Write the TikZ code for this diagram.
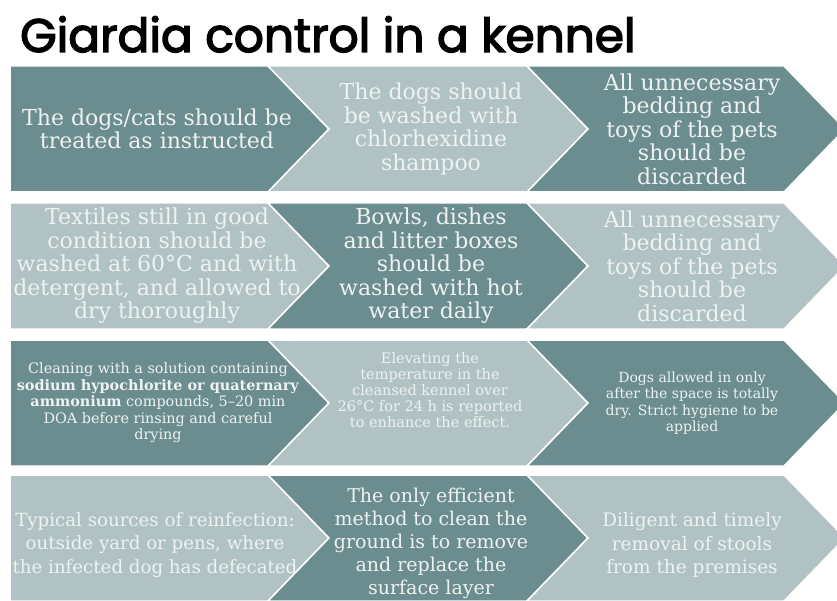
\documentclass[tikz,border=0pt]{standalone}
\usepackage{fontspec}
\setmainfont{DejaVu Serif}
\newfontfamily\titlefont[FakeBold=3]{Poppins}
\usepackage{tikz}

\definecolor{tealdark}{RGB}{108,141,143}
\definecolor{teallight}{RGB}{176,194,195}
\definecolor{boxtext}{RGB}{238,242,242}

\tikzset{
  darkbox/.style={fill=tealdark,draw=white,line width=1.5pt},
  lightbox/.style={fill=teallight,draw=white,line width=1.5pt},
  boxlabel/.style={text=boxtext,align=center,inner sep=0pt,
    font=\fontsize{22}{23.5}\selectfont},
  smalllabel/.style={boxlabel,font=\fontsize{14.4}{16.5}\selectfont},
}

\begin{document}
\begin{tikzpicture}[x=1pt,y=-1pt]
        \pgfmathsetmacro\h{126}
        \pgfmathsetmacro\tip{61}
        \pgfmathsetmacro\xa{10}
        \pgfmathsetmacro\xb{268}
        \pgfmathsetmacro\xc{527}
        \pgfmathsetmacro\xd{784}
        \useasboundingbox (0,0) rectangle (837,601);
        \clip (0,0) rectangle (837,601);
        % title
        \node[anchor=base west,inner sep=0pt,font=\titlefont\fontsize{47}{47}\selectfont]
          (title) at (20,52) {Giardia control in a kennel};
        % chevrons, row by row
        \foreach \t/\sa/\sb in {66/darkbox/lightbox,203/lightbox/darkbox,
                                340/darkbox/lightbox,475/lightbox/darkbox}{
          \pgfmathsetmacro\m{\t+\h/2}
          \pgfmathsetmacro\b{\t+\h}
          \draw[\sa] (\xa,\t) -- (\xb,\t) -- (\xb+\tip,\m) -- (\xb,\b) -- (\xa,\b) -- cycle;
          \draw[\sb] (\xb,\t) -- (\xc,\t) -- (\xc+\tip,\m) -- (\xc,\b) -- (\xb,\b) -- (\xb+\tip,\m) -- cycle;
          \draw[\sa] (\xc,\t) -- (\xd,\t) -- (\xd+\tip,\m) -- (\xd,\b) -- (\xc,\b) -- (\xc+\tip,\m) -- cycle;
        }
        % row 1
        \node[boxlabel] (treat) at (157,129) {The dogs/cats should be\\treated as instructed};
        \node[boxlabel] (wash) at (431,129) {The dogs should\\be washed with\\chlorhexidine\\shampoo};
        \node[boxlabel] (discard1) at (692,129) {All unnecessary\\bedding and\\toys of the pets\\should be\\discarded};
        % row 2
        \node[boxlabel] (textiles) at (157,266) {Textiles still in good\\condition should be\\washed at 60°C and with\\detergent, and allowed to\\dry thoroughly};
        \node[boxlabel] (bowls) at (431,266) {Bowls, dishes\\and litter boxes\\should be\\washed with hot\\water daily};
        \node[boxlabel] (discard2) at (692,266) {All unnecessary\\bedding and\\toys of the pets\\should be\\discarded};
        % row 3
        \node[smalllabel] (cleaning) at (158,403) {Cleaning with a solution containing\\\textbf{sodium hypochlorite or quaternary}\\\textbf{ammonium} compounds, 5–20 min\\DOA before rinsing and careful\\drying};
        \node[smalllabel,font=\fontsize{14.5}{16}\selectfont] (elevate) at (430,390) {Elevating the\\temperature in the\\cleansed kennel over\\26°C for 24 h is reported\\to enhance the effect.};
        \node[smalllabel,font=\fontsize{14}{16.5}\selectfont] (dogsin) at (692,403) {Dogs allowed in only\\after the space is totally\\dry. Strict hygiene to be\\applied};
        % row 4
        \node[boxlabel,font=\fontsize{18.2}{23.5}\selectfont] (sources) at (155,545) {Typical sources of reinfection:\\outside yard or pens, where\\the infected dog has defecated};
        \node[boxlabel,font=\fontsize{19}{23}\selectfont] (ground) at (431,543) {The only efficient\\method to clean the\\ground is to remove\\and replace the\\surface layer};
        \node[boxlabel,font=\fontsize{18.5}{23.5}\selectfont] (stools) at (692,545) {Diligent and timely\\removal of stools\\from the premises};
\end{tikzpicture}
\end{document}
